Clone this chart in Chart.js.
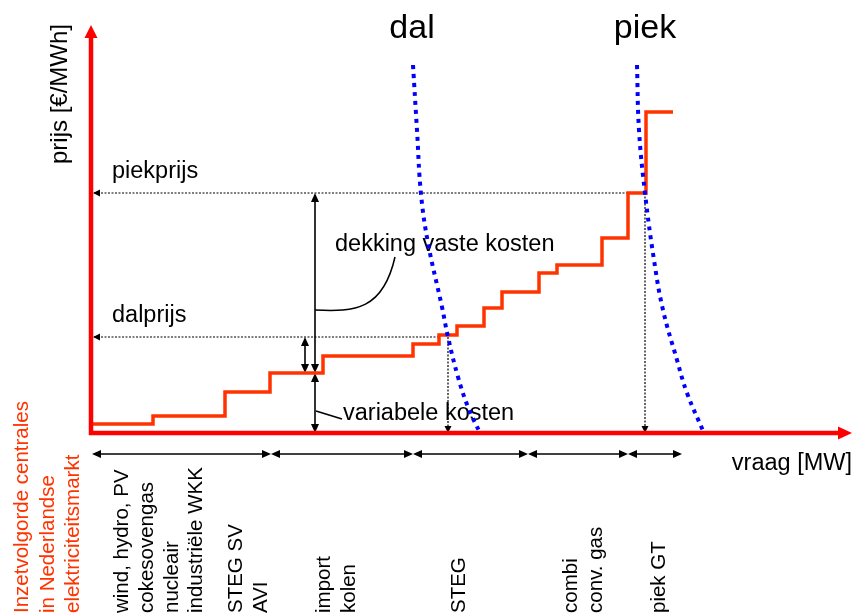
<!DOCTYPE html>
<html>
<head>
<meta charset="utf-8">
<script src="https://cdn.jsdelivr.net/npm/chart.js@4/dist/chart.umd.min.js"></script>
<style>
  body { margin: 0; background: #fff; }
  canvas { display: block; }
</style>
</head>
<body>
<canvas id="meritChart" width="855" height="614"></canvas>
<script>
// Merit order: begin van elk blok (cumulatief vermogen) en de variabele kosten van dat blok
const stapVermogen = [1, 62, 134, 179, 232, 322, 348, 366, 393, 411, 448, 466, 511, 537, 555, 582];
const stapKosten   = [9, 17, 41, 60, 77, 89, 98, 107, 125, 141, 160, 168, 195, 240, 321, 321];

// Vraagcurves
const dalVraag  = [322, 326, 330, 337, 351, 357, 367, 377, 389];
const dalPrijs  = [368, 303, 239, 190, 126, 96, 56, 26, 0];
const piekVraag = [546, 548, 554, 563, 572, 586, 596, 613];
const piekPrijs = [368, 303, 240, 173, 123, 73, 40, 0];

// Prijsniveaus en snijpunten
const piekprijs = 240;
const dalprijs = 96;
const snijpuntDal = 357;
const snijpuntPiek = 554;
const marginaleKosten = 60;

// Blokken van centrales onder de x-as
const blokGrenzen = [1, 180, 322, 437, 537, 591];
const centraleLabels = ['wind, hydro, PV', 'cokesovengas', 'nucleair', 'industriële WKK',
  'STEG SV', 'AVI', 'import', 'kolen', 'STEG', 'combi', 'conv. gas', 'piek GT'];
const centralePositie = [37, 62, 87, 111, 151, 176, 239, 264, 374, 486, 511, 574];

const titelRegels = ['Inzetvolgorde centrales', 'in Nederlandse', 'elektriciteitsmarkt'];
const titelPositie = [-63, -37, -12];

const FONT = '"Liberation Sans", Arial, Helvetica, sans-serif';

const annotaties = {
  id: 'annotaties',
  beforeDatasetsDraw(chart) {
    const { ctx, scales: { x, y } } = chart;
    const X = v => x.getPixelForValue(v);
    const Y = v => y.getPixelForValue(v);

    const line = (x1, y1, x2, y2) => {
      ctx.beginPath(); ctx.moveTo(X(x1), Y(y1)); ctx.lineTo(X(x2), Y(y2)); ctx.stroke();
    };
    const head = (tx, ty, ang, len, half) => {
      const px = X(tx), py = Y(ty);
      const c = Math.cos(ang), s = Math.sin(ang);
      ctx.beginPath();
      ctx.moveTo(px, py);
      ctx.lineTo(px - len * c - half * s, py - len * s + half * c);
      ctx.lineTo(px - len * c + half * s, py - len * s - half * c);
      ctx.closePath();
      ctx.fill();
    };
    const UP = -Math.PI / 2, DOWN = Math.PI / 2, LEFT = Math.PI, RIGHT = 0;

    ctx.save();
    ctx.fillStyle = '#000';
    ctx.strokeStyle = '#000';

    // stippellijnen naar de prijsas en de vraagas
    ctx.lineWidth = 1.2;
    ctx.setLineDash([2, 1.5]);
    line(3, piekprijs, snijpuntPiek, piekprijs);
    line(3, dalprijs, snijpuntDal - 8, dalprijs);
    line(snijpuntDal, dalprijs, snijpuntDal, 4);
    line(snijpuntPiek, piekprijs, snijpuntPiek, 4);
    ctx.setLineDash([]);
    head(2, piekprijs, LEFT, 7, 3.5);
    head(2, dalprijs, LEFT, 7, 3.5);
    head(snijpuntDal, 0, DOWN, 7, 3.5);
    head(snijpuntPiek, 0, DOWN, 7, 3.5);

    // pijlen voor vaste en variabele kosten
    ctx.lineWidth = 1.6;
    const ax = 224, ax2 = 214;
    line(ax, piekprijs - 2, ax, marginaleKosten + 2);
    head(ax, piekprijs, UP, 9, 4);
    head(ax, marginaleKosten, DOWN, 9, 4);
    line(ax, marginaleKosten - 2, ax, 2);
    head(ax, marginaleKosten, UP, 9, 4);
    head(ax, 0, DOWN, 9, 4);
    line(ax2, dalprijs - 2, ax2, marginaleKosten + 2);
    head(ax2, dalprijs, UP, 9, 4);
    head(ax2, marginaleKosten, DOWN, 9, 4);

    // verwijslijnen naar de teksten
    ctx.lineWidth = 1.5;
    ctx.beginPath();
    ctx.moveTo(X(224), Y(123));
    ctx.bezierCurveTo(X(264), Y(121), X(292), Y(123), X(304), Y(176));
    ctx.stroke();
    line(225, 22, 251, 14);

    // blokken onder de x-as
    const by = -21;
    for (let i = 0; i < blokGrenzen.length - 1; i++) {
      const a = blokGrenzen[i], b = blokGrenzen[i + 1];
      line(a + 4, by, b - 4, by);
      head(a, by, LEFT, 9, 4);
      head(b, by, RIGHT, 9, 4);
    }

    // teksten
    ctx.textBaseline = 'alphabetic';
    ctx.font = '23.5px ' + FONT;
    ctx.textAlign = 'left';
    ctx.fillText('piekprijs', X(21), Y(255));
    ctx.fillText('dalprijs', X(21), Y(111));
    ctx.fillText('dekking vaste kosten', X(244), Y(182));
    ctx.fillText('variabele kosten', X(252), Y(13));
    ctx.textAlign = 'right';
    ctx.fillText('vraag [MW]', X(761), Y(-37));

    ctx.font = '34px ' + FONT;
    ctx.textAlign = 'center';
    ctx.fillText('dal', X(321), Y(395));
    ctx.fillText('piek', X(554), Y(395));

    const rotText = (t, px, py, align) => {
      ctx.save();
      ctx.translate(px, py);
      ctx.rotate(-Math.PI / 2);
      ctx.textAlign = align;
      ctx.fillText(t, 0, 0);
      ctx.restore();
    };
    ctx.font = '24px ' + FONT;
    rotText('prijs [€/MWh]', X(-24), Y(339), 'center');

    ctx.font = '20.5px ' + FONT;
    centraleLabels.forEach((t, i) => rotText(t, X(centralePositie[i]), Y(-180), 'left'));
    ctx.fillStyle = '#ff3300';
    titelRegels.forEach((t, i) => rotText(t, X(titelPositie[i]), Y(-180), 'left'));

    ctx.restore();
  },
  afterDatasetsDraw(chart) {
    const { ctx, scales: { x, y } } = chart;
    const x0 = x.getPixelForValue(0), y0 = y.getPixelForValue(0);
    const xEnd = x.getPixelForValue(761), yEnd = y.getPixelForValue(408);
    ctx.save();
    ctx.strokeStyle = '#ff0000';
    ctx.fillStyle = '#ff0000';
    ctx.lineWidth = 4.5;
    ctx.beginPath();
    ctx.moveTo(x0, yEnd + 10);
    ctx.lineTo(x0, y0);
    ctx.lineTo(xEnd - 10, y0);
    ctx.stroke();
    ctx.beginPath();
    ctx.moveTo(x0, yEnd); ctx.lineTo(x0 - 6.5, yEnd + 13); ctx.lineTo(x0 + 6.5, yEnd + 13);
    ctx.closePath(); ctx.fill();
    ctx.beginPath();
    ctx.moveTo(xEnd, y0); ctx.lineTo(xEnd - 14, y0 - 6.5); ctx.lineTo(xEnd - 14, y0 + 6.5);
    ctx.closePath(); ctx.fill();
    ctx.restore();
  }
};

const toPunten = (xs, ys) => xs.map((v, i) => ({ x: v, y: ys[i] }));

const ctx = document.getElementById('meritChart').getContext('2d');
const meritChart = new Chart(ctx, {
  type: 'scatter',
  data: {
    datasets: [
      {
        label: 'dal',
        data: toPunten(dalVraag, dalPrijs),
        showLine: true,
        tension: 0.4,
        borderColor: '#0000ff',
        borderWidth: 4,
        borderDash: [4, 5],
        pointRadius: 0
      },
      {
        label: 'piek',
        data: toPunten(piekVraag, piekPrijs),
        showLine: true,
        tension: 0.4,
        borderColor: '#0000ff',
        borderWidth: 4,
        borderDash: [4, 5],
        pointRadius: 0
      },
      {
        label: 'inzetvolgorde',
        data: toPunten(stapVermogen, stapKosten),
        showLine: true,
        stepped: 'before',
        borderColor: '#ff3300',
        borderWidth: 3.5,
        pointRadius: 0
      }
    ]
  },
  options: {
    responsive: false,
    animation: false,
    clip: false,
    layout: { padding: { left: 91, right: 4, top: 20, bottom: 181 } },
    scales: {
      x: { type: 'linear', min: 0, max: 760, display: false },
      y: { type: 'linear', min: 0, max: 413, display: false }
    },
    plugins: {
      legend: { display: false },
      tooltip: { enabled: false }
    }
  },
  plugins: [annotaties]
});
</script>
</body>
</html>
